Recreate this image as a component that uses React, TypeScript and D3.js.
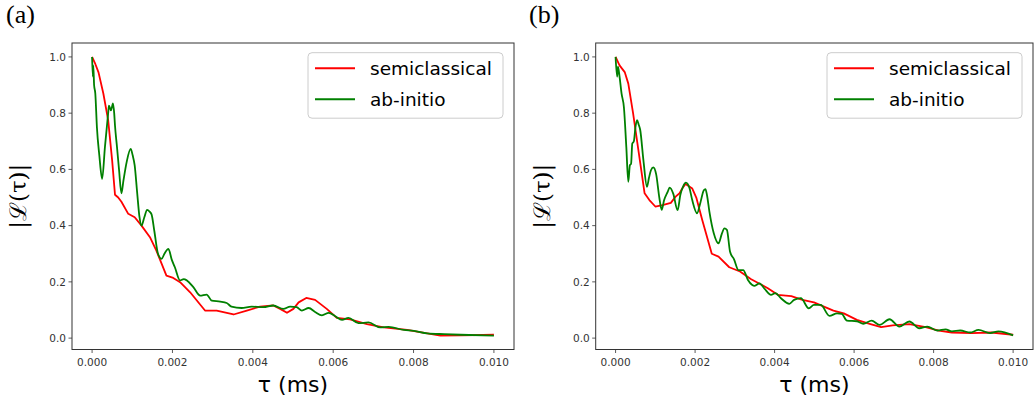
import React from "react";
import * as d3 from "d3";

// ---- data (tau in ms, |L(tau)|) ----
const tauSemiA = [0, 0.00008, 0.00016, 0.00028, 0.0004, 0.0005, 0.00057, 0.00065, 0.00073, 0.0009, 0.00106, 0.00123, 0.00144, 0.0016, 0.00185, 0.00202, 0.00219, 0.00244, 0.00281, 0.0031, 0.00352, 0.00385, 0.00418, 0.00451, 0.00468, 0.00485, 0.00501, 0.00514, 0.00533, 0.00555, 0.00584, 0.00609, 0.00642, 0.00684, 0.00726, 0.00784, 0.00834, 0.00867, 0.00917, 0.01];
const valSemiA = [1.0, 0.975, 0.945, 0.87, 0.775, 0.63, 0.51, 0.5, 0.485, 0.442, 0.43, 0.4, 0.359, 0.311, 0.222, 0.214, 0.199, 0.163, 0.098, 0.098, 0.084, 0.098, 0.112, 0.116, 0.104, 0.09, 0.104, 0.127, 0.143, 0.136, 0.104, 0.072, 0.067, 0.05, 0.038, 0.029, 0.017, 0.009, 0.01, 0.012];

const tauAbA = [0, 0.00002, 0.00003, 0.00005, 0.00008, 0.00012, 0.00018, 0.00025, 0.00032, 0.0004, 0.00042, 0.00047, 0.00052, 0.00055, 0.00057, 0.00062, 0.00067, 0.00073, 0.00078, 0.00086, 0.00096, 0.00101, 0.00106, 0.00112, 0.00118, 0.00123, 0.0013, 0.00137, 0.00143, 0.00148, 0.00155, 0.00164, 0.00173, 0.0018, 0.0019, 0.00198, 0.00206, 0.00219, 0.00228, 0.00236, 0.00252, 0.00269, 0.00285, 0.00298, 0.00319, 0.00335, 0.00347, 0.00372, 0.00397, 0.00426, 0.00451, 0.00476, 0.00493, 0.00509, 0.00522, 0.00539, 0.00555, 0.00572, 0.00589, 0.00605, 0.00622, 0.00638, 0.00663, 0.00688, 0.00717, 0.00738, 0.00776, 0.00801, 0.00834, 0.00876, 0.00917, 0.01];
const valAbA = [1.0, 0.93, 0.97, 0.9, 0.87, 0.75, 0.65, 0.566, 0.68, 0.8, 0.827, 0.81, 0.835, 0.8, 0.756, 0.679, 0.6, 0.515, 0.56, 0.626, 0.673, 0.65, 0.614, 0.52, 0.43, 0.4, 0.43, 0.456, 0.45, 0.44, 0.38, 0.3, 0.282, 0.3, 0.317, 0.28, 0.252, 0.205, 0.21, 0.205, 0.181, 0.151, 0.155, 0.133, 0.13, 0.125, 0.112, 0.107, 0.112, 0.11, 0.116, 0.104, 0.112, 0.11, 0.098, 0.107, 0.093, 0.081, 0.09, 0.078, 0.065, 0.072, 0.053, 0.056, 0.038, 0.04, 0.029, 0.026, 0.017, 0.014, 0.012, 0.009];

const tauSemiB = [0, 0.0001, 0.00023, 0.00032, 0.00044, 0.00061, 0.00073, 0.00085, 0.001, 0.00118, 0.00139, 0.00151, 0.00161, 0.00168, 0.00176, 0.00193, 0.00203, 0.00218, 0.00242, 0.00259, 0.00286, 0.00313, 0.0034, 0.00367, 0.00383, 0.00408, 0.00442, 0.0047, 0.00499, 0.00524, 0.00548, 0.00574, 0.00607, 0.00639, 0.00668, 0.00697, 0.00739, 0.0078, 0.00813, 0.00846, 0.00895, 0.00945, 0.01];
const valSemiB = [1.0, 0.97, 0.946, 0.905, 0.8, 0.633, 0.515, 0.491, 0.468, 0.473, 0.481, 0.503, 0.515, 0.533, 0.548, 0.532, 0.5, 0.42, 0.3, 0.29, 0.252, 0.237, 0.21, 0.19, 0.177, 0.154, 0.149, 0.136, 0.127, 0.112, 0.098, 0.088, 0.065, 0.051, 0.039, 0.045, 0.05, 0.039, 0.027, 0.02, 0.018, 0.02, 0.012];

const tauAbB = [0, 0.00004, 0.00006, 0.0001, 0.00015, 0.00021, 0.00027, 0.00032, 0.00036, 0.00039, 0.00042, 0.00046, 0.0005, 0.00054, 0.00058, 0.00062, 0.0007, 0.00079, 0.00084, 0.00089, 0.00095, 0.00102, 0.0011, 0.00116, 0.00122, 0.00131, 0.00136, 0.00145, 0.00156, 0.00163, 0.0017, 0.00177, 0.00186, 0.00193, 0.00205, 0.00213, 0.00222, 0.00226, 0.0023, 0.00236, 0.00247, 0.00259, 0.00267, 0.00274, 0.0028, 0.00288, 0.00298, 0.00309, 0.00321, 0.00333, 0.00343, 0.0035, 0.00362, 0.00375, 0.00391, 0.00402, 0.00416, 0.00437, 0.00449, 0.00466, 0.00486, 0.00499, 0.00516, 0.00538, 0.00557, 0.00569, 0.00582, 0.00607, 0.00623, 0.00644, 0.00664, 0.00689, 0.00714, 0.00739, 0.00764, 0.00784, 0.00809, 0.0083, 0.00846, 0.00867, 0.00892, 0.00913, 0.00942, 0.00963, 0.01];
const valAbB = [1.0, 0.93, 0.965, 0.93, 0.87, 0.82, 0.68, 0.556, 0.615, 0.62, 0.692, 0.7, 0.75, 0.775, 0.76, 0.74, 0.633, 0.538, 0.57, 0.597, 0.607, 0.583, 0.5, 0.456, 0.49, 0.52, 0.535, 0.514, 0.455, 0.51, 0.54, 0.553, 0.533, 0.49, 0.444, 0.48, 0.526, 0.53, 0.508, 0.45, 0.373, 0.337, 0.37, 0.39, 0.385, 0.307, 0.28, 0.242, 0.242, 0.207, 0.19, 0.186, 0.195, 0.175, 0.154, 0.16, 0.142, 0.122, 0.136, 0.142, 0.106, 0.118, 0.118, 0.079, 0.088, 0.086, 0.062, 0.06, 0.051, 0.062, 0.047, 0.067, 0.041, 0.059, 0.035, 0.041, 0.027, 0.031, 0.024, 0.027, 0.02, 0.029, 0.018, 0.024, 0.01];

const xTicks = [0, 0.002, 0.004, 0.006, 0.008, 0.01];
const yTicks = [0, 0.2, 0.4, 0.6, 0.8, 1.0];
const seriesNames = ["semiclassical", "ab-initio"];
const seriesColors = ["#ff0000", "#008000"];
const panelLabels = ["(a)", "(b)"];

type PanelProps = {
  left: number;
  right: number;
  label: string;
  labelX: number;
  tauS: number[];
  valS: number[];
  tauG: number[];
  valG: number[];
};

const TOP = 43;
const BOTTOM = 349.5;
const tickColor = "#333";
const fontSans = "'DejaVu Sans', sans-serif";

function Panel({ left, right, label, labelX, tauS, valS, tauG, valG }: PanelProps) {
  const x = d3.scaleLinear().domain([-0.0005, 0.0105]).range([left, right]);
  const y = d3.scaleLinear().domain([-0.0405, 1.0495]).range([BOTTOM, TOP]);
  const lineLin = d3.line<[number, number]>().x((d) => x(d[0])).y((d) => y(d[1]));
  const lineSmooth = d3
    .line<[number, number]>()
    .x((d) => x(d[0]))
    .y((d) => y(d[1]))
    .curve(d3.curveMonotoneX);
  const semi = tauS.map((t, i) => [t, valS[i]] as [number, number]);
  const ab = tauG.map((t, i) => [t, valG[i]] as [number, number]);
  const fx = d3.format(".3f");
  const fy = d3.format(".1f");
  const cx = (left + right) / 2;
  const cy = (TOP + BOTTOM) / 2;
  const legX = right - 206;
  const legY = TOP + 9.7;
  return (
    <g>
      <text x={labelX} y={23} fontFamily="'Liberation Serif', serif" fontSize={26} fill="#000">
        {label}
      </text>
      <path d={lineLin(semi) || ""} fill="none" stroke={seriesColors[0]} strokeWidth={1.8} strokeLinejoin="round" />
      <path d={lineSmooth(ab) || ""} fill="none" stroke={seriesColors[1]} strokeWidth={1.8} strokeLinejoin="round" />
      <rect x={left} y={TOP} width={right - left} height={BOTTOM - TOP} fill="none" stroke={tickColor} strokeWidth={1} />
      {xTicks.map((t) => (
        <g key={"x" + t}>
          <line x1={x(t)} x2={x(t)} y1={BOTTOM} y2={BOTTOM + 3.5} stroke={tickColor} strokeWidth={0.8} />
          <text x={x(t)} y={BOTTOM + 16} textAnchor="middle" fontFamily={fontSans} fontSize={10.5} fill="#333">
            {fx(t)}
          </text>
        </g>
      ))}
      {yTicks.map((v) => (
        <g key={"y" + v}>
          <line x1={left - 3.5} x2={left} y1={y(v)} y2={y(v)} stroke={tickColor} strokeWidth={0.8} />
          <text x={left - 6} y={y(v)} dy="0.35em" textAnchor="end" fontFamily={fontSans} fontSize={10.5} fill="#333">
            {fy(v)}
          </text>
        </g>
      ))}
      <text x={cx} y={392} textAnchor="middle" fontFamily={fontSans} fontSize={22} fill="#000">
        τ (ms)
      </text>
      <text
        transform={`translate(${left - 46},${cy}) rotate(-90)`}
        textAnchor="middle"
        fontFamily="'DejaVu Serif', serif"
        fontSize={23}
        fill="#000"
      >
        |ℒ(τ)|
      </text>
      <g transform={`translate(${legX},${legY})`}>
        <rect x={0} y={0} width={195} height={65.5} rx={4} fill="#fff" fillOpacity={0.8} stroke="#cccccc" strokeWidth={1} />
        {seriesNames.map((n, i) => (
          <g key={n} transform={`translate(0,${15.5 + i * 31})`}>
            <line x1={7} x2={47} y1={0} y2={0} stroke={seriesColors[i]} strokeWidth={2} />
            <text x={62} y={0} dy="0.35em" fontFamily={fontSans} fontSize={18.5} fill="#000">
              {n}
            </text>
          </g>
        ))}
      </g>
    </g>
  );
}

export default function App() {
  return (
    <svg
      width={1034}
      height={405}
      style={{ position: "absolute", left: 0, top: 0, display: "block", background: "#fff" }}
    >
      <rect x={0} y={0} width={1034} height={405} fill="#fff" />
      <Panel left={72} right={514} label={panelLabels[0]} labelX={6} tauS={tauSemiA} valS={valSemiA} tauG={tauAbA} valG={valAbA} />
      <Panel left={595.7} right={1033} label={panelLabels[1]} labelX={529} tauS={tauSemiB} valS={valSemiB} tauG={tauAbB} valG={valAbB} />
    </svg>
  );
}
